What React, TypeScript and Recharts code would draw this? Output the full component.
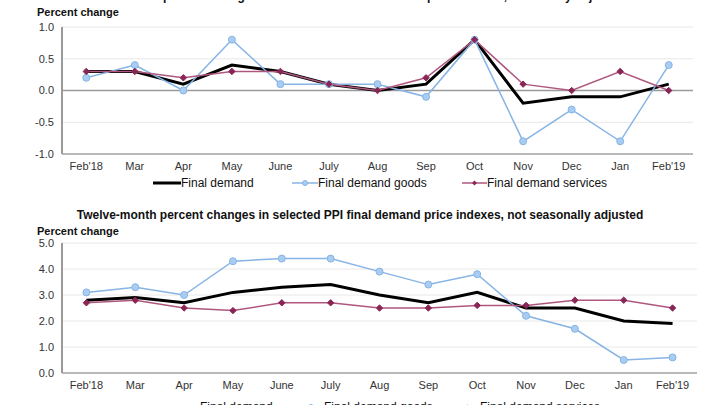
import { LineChart, Line, XAxis, YAxis, CartesianGrid, ReferenceLine } from "recharts";

const months = ["Feb'18", "Mar", "Apr", "May", "June", "July", "Aug", "Sep", "Oct", "Nov", "Dec", "Jan", "Feb'19"];

// one-month changes, seasonally adjusted
const monthlyFinal = [0.3, 0.3, 0.1, 0.4, 0.3, 0.1, 0.0, 0.1, 0.8, -0.2, -0.1, -0.1, 0.1];
const monthlyGoods = [0.2, 0.4, 0.0, 0.8, 0.1, 0.1, 0.1, -0.1, 0.8, -0.8, -0.3, -0.8, 0.4];
const monthlyServices = [0.3, 0.3, 0.2, 0.3, 0.3, 0.1, 0.0, 0.2, 0.8, 0.1, 0.0, 0.3, 0.0];
const monthlyTicks = [-1, -0.5, 0, 0.5, 1];

// twelve-month changes, not seasonally adjusted
const yearlyFinal = [2.8, 2.9, 2.7, 3.1, 3.3, 3.4, 3.0, 2.7, 3.1, 2.5, 2.5, 2.0, 1.9];
const yearlyGoods = [3.1, 3.3, 3.0, 4.3, 4.4, 4.4, 3.9, 3.4, 3.8, 2.2, 1.7, 0.5, 0.6];
const yearlyServices = [2.7, 2.8, 2.5, 2.4, 2.7, 2.7, 2.5, 2.5, 2.6, 2.6, 2.8, 2.8, 2.5];
const yearlyTicks = [0, 1, 2, 3, 4, 5];

const FONT = "'Liberation Sans', Arial, sans-serif";
const BLACK = "#000000";
const BLUE = "#86b4e4";
const BLUE_FILL = "#a9cdf2";
const MAROON = "#b0577f";
const MAROON_DOT = "#8a2656";

function buildRows(a: number[], b: number[], c: number[]) {
  return months.map((m, i) => ({ m, fd: a[i], goods: b[i], services: c[i] }));
}

const monthlyRows = buildRows(monthlyFinal, monthlyGoods, monthlyServices);
const yearlyRows = buildRows(yearlyFinal, yearlyGoods, yearlyServices);

function Diamond(props: any) {
  const { cx, cy } = props;
  if (cx == null || cy == null) return null;
  const s = 3.2;
  return (
    <path
      d={`M${cx},${cy - s}L${cx + s},${cy}L${cx},${cy + s}L${cx - s},${cy}Z`}
      fill={MAROON_DOT}
      stroke={MAROON_DOT}
    />
  );
}

const tickStyle = { fontSize: 11, fill: "#333", fontFamily: FONT };

type PanelProps = {
  rows: any[];
  ticks: number[];
  top: number;
  margin: { top: number; right: number; bottom: number; left: number };
  zeroLine: boolean;
};

function Panel({ rows, ticks, top, margin, zeroLine }: PanelProps) {
  const lo = ticks[0];
  const hi = ticks[ticks.length - 1];
  return (
    <div style={{ position: "absolute", left: 0, top }}>
      <LineChart width={720} height={200} data={rows} margin={margin}>
        <CartesianGrid vertical={false} stroke="#e8e8e8" />
        <XAxis
          dataKey="m"
          scale="band"
          tick={tickStyle}
          tickLine={false}
          axisLine={{ stroke: "#a6a6a6", strokeWidth: 1.5 }}
          height={20}
          interval={0}
        />
        <XAxis
          xAxisId="frame"
          dataKey="m"
          scale="band"
          orientation="top"
          height={0}
          tick={false}
          tickLine={false}
          axisLine={{ stroke: "#cccccc" }}
        />
        <YAxis
          domain={[lo, hi]}
          ticks={ticks}
          tickFormatter={(v: number) => v.toFixed(1)}
          tick={tickStyle}
          tickLine={false}
          axisLine={{ stroke: "#9a9a9a", strokeWidth: 2 }}
          width={62}
          interval={0}
        />
        <YAxis
          yAxisId="frame"
          orientation="right"
          domain={[lo, hi]}
          width={0}
          tick={false}
          tickLine={false}
          axisLine={{ stroke: "#cccccc" }}
        />
        {zeroLine && <ReferenceLine y={0} stroke="#9a9a9a" strokeWidth={1.5} />}
        <Line
          dataKey="fd"
          stroke={BLACK}
          strokeWidth={3}
          dot={false}
          isAnimationActive={false}
        />
        <Line
          dataKey="goods"
          stroke={BLUE}
          strokeWidth={1.5}
          dot={{ r: 3.5, fill: BLUE_FILL, stroke: BLUE, strokeWidth: 1 }}
          isAnimationActive={false}
        />
        <Line
          dataKey="services"
          stroke={MAROON}
          strokeWidth={1.5}
          dot={<Diamond />}
          isAnimationActive={false}
        />
      </LineChart>
    </div>
  );
}

function LegendRow({ top, xs }: { top: number; xs: number[] }) {
  const item = { position: "absolute" as const, top, display: "flex", alignItems: "center", fontSize: 12, color: "#111", fontFamily: FONT, whiteSpace: "nowrap" as const, lineHeight: "14px" };
  return (
    <>
      <div style={{ ...item, left: xs[0] }}>
        <svg width={28} height={8}><line x1={0} y1={4} x2={28} y2={4} stroke={BLACK} strokeWidth={3} /></svg>
        Final demand
      </div>
      <div style={{ ...item, left: xs[1] }}>
        <svg width={26} height={8}>
          <line x1={0} y1={4} x2={26} y2={4} stroke={BLUE} strokeWidth={1.5} />
          <circle cx={13} cy={4} r={2.5} fill={BLUE_FILL} stroke={BLUE} />
        </svg>
        Final demand goods
      </div>
      <div style={{ ...item, left: xs[2] }}>
        <svg width={25} height={8}>
          <line x1={0} y1={4} x2={25} y2={4} stroke={MAROON} strokeWidth={1.5} />
          <path d="M12.5,1.5L15,4L12.5,6.5L10,4Z" fill={MAROON_DOT} />
        </svg>
        Final demand services
      </div>
    </>
  );
}

const labelStyle = { position: "absolute" as const, fontFamily: FONT, fontWeight: 700, fontSize: 11, color: "#111", whiteSpace: "nowrap" as const };
const titleStyle = { position: "absolute" as const, left: 0, width: 720, textAlign: "center" as const, fontFamily: FONT, fontWeight: 700, fontSize: 12, color: "#111", whiteSpace: "nowrap" as const, lineHeight: "14px" };

export default function App() {
  return (
    <div style={{ position: "fixed", left: 0, top: 0, width: 720, height: 405, overflow: "hidden", background: "#fff" }}>
      <div style={{ ...titleStyle, top: -11 }}>
        One-month percent changes in selected PPI final demand price indexes, seasonally adjusted
      </div>
      <div style={{ ...labelStyle, left: 37, top: 6 }}>Percent change</div>
      <Panel rows={monthlyRows} ticks={monthlyTicks} top={0} margin={{ top: 27, right: 27, bottom: 26, left: 0 }} zeroLine />
      <LegendRow top={176} xs={[153, 292, 462]} />

      <div style={{ ...titleStyle, top: 208 }}>
        Twelve-month percent changes in selected PPI final demand price indexes, not seasonally adjusted
      </div>
      <div style={{ ...labelStyle, left: 37, top: 225 }}>Percent change</div>
      <Panel rows={yearlyRows} ticks={yearlyTicks} top={200} margin={{ top: 43, right: 23, bottom: 7, left: 0 }} zeroLine={false} />
      <LegendRow top={400} xs={[172, 298, 455]} />
    </div>
  );
}
